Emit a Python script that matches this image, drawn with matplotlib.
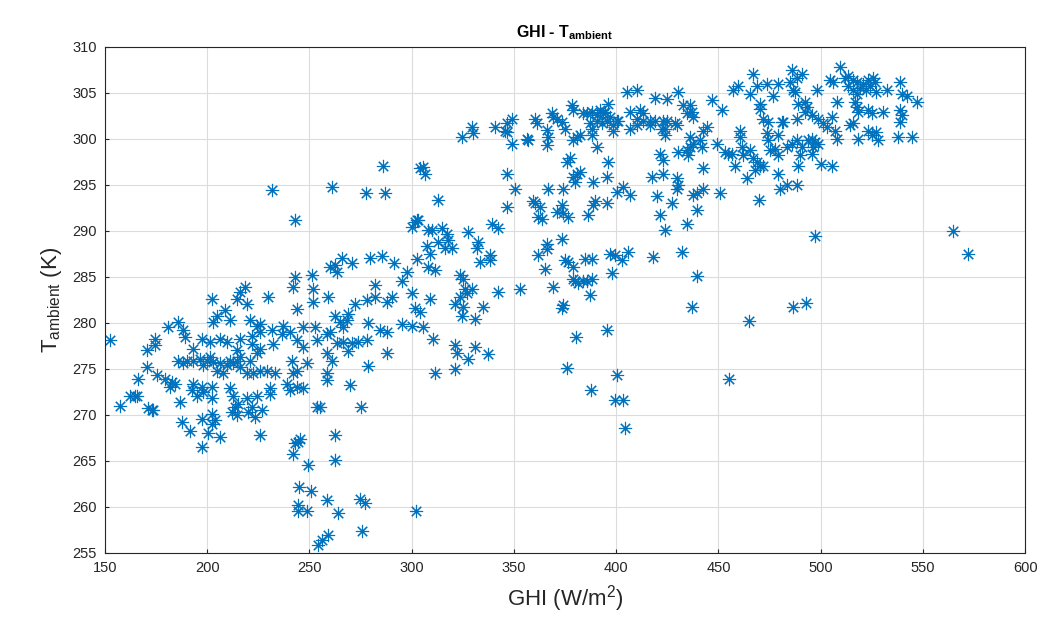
import numpy as np
import matplotlib
matplotlib.use("Agg")
import matplotlib.pyplot as plt

plt.rcParams['font.family'] = ['Liberation Sans', 'DejaVu Sans']
plt.rcParams['mathtext.fontset'] = 'custom'
plt.rcParams['mathtext.rm'] = 'Liberation Sans'
plt.rcParams['mathtext.it'] = 'Liberation Sans:italic'
plt.rcParams['mathtext.bf'] = 'Liberation Sans:bold'

# left cluster, low GHI
ghi_a = [242.9, 251.1, 242.1, 251.9, 218.5, 216.0, 214.4, 202.2, 219.3, 229.9,
         243.7, 251.9, 208.7, 204.6, 203.0, 211.1, 181.0, 185.9, 188.3, 189.1,
         174.4, 174.4, 197.3, 193.2, 220.9, 224.2, 225.8, 221.7, 225.8, 221.7,
         225.8, 231.5, 237.2, 240.5, 236.4, 232.3, 243.7, 247.0, 247.0, 252.7,
         253.5, 214.4, 209.5, 206.2, 201.3, 216.0,
         185.9, 189.9, 193.2, 196.4, 199.7, 203.0, 206.2, 209.5, 212.7, 216.0,
         219.3, 222.5, 225.8, 229.1, 233.1, 188.3, 198.1, 204.6, 207.9, 211.1,
         216.0, 220.9, 224.2, 214.4, 201.3, 175.3, 179.3, 182.6, 181.8, 184.2,
         173.6, 193.2, 192.4, 194.8, 197.3, 198.1, 202.2, 202.2, 186.7, 187.5,
         191.6, 197.3, 202.2, 203.8, 202.2, 200.5, 206.2, 211.1, 212.7, 213.6,
         211.9, 214.4, 215.2, 219.3, 221.7, 223.3, 224.2, 220.1, 226.6, 230.7,
         230.7, 238.8, 240.5, 243.7, 247.0, 242.1, 243.7, 241.3, 248.6, 253.5,
         225.8, 245.3]
t_a = [285.0, 285.2, 283.9, 283.7, 283.9, 283.4, 282.6, 282.6, 282.1, 282.8,
       281.5, 282.3, 281.4, 280.8, 280.1, 280.3, 279.6, 280.1, 279.2, 278.5,
       278.3, 277.6, 278.3, 277.2, 280.3, 279.7, 279.9, 278.6, 279.0, 277.7,
       277.2, 279.2, 279.7, 279.0, 278.8, 277.7, 278.1, 277.4, 279.6, 279.6,
       278.1, 277.0, 277.9, 278.3, 277.9, 278.3,
       275.9, 275.9, 275.9, 276.1, 275.9, 275.7, 275.6, 275.4, 275.6, 275.2,
       274.5, 274.5, 274.8, 274.8, 274.5, 275.6, 275.4, 274.8, 274.5, 275.9,
       276.3, 275.9, 276.7, 275.9, 276.3, 274.3, 273.9, 273.6, 273.0, 273.4,
       270.5, 273.4, 272.7, 272.1, 273.0, 272.5, 273.0, 271.8, 271.4, 269.2,
       268.3, 269.6, 270.1, 269.4, 269.0, 268.0, 267.6, 272.9, 272.0, 270.9,
       270.3, 270.0, 271.2, 271.8, 270.9, 269.8, 272.0, 270.3, 270.5, 272.9,
       272.3, 273.4, 272.7, 273.0, 272.9, 274.5, 274.8, 275.9, 275.6, 270.9,
       267.8, 267.4]

# far left, bottom outliers and 255-300 W/m2
ghi_b = [152.4, 157.3, 162.2, 164.7, 165.5, 166.3, 170.4, 170.4, 171.2, 172.8,
         197.3, 242.9, 244.4, 242.1, 262.5, 249.4, 262.5, 244.9, 250.7, 258.4,
         244.5, 244.5, 248.6, 264.1, 274.7, 277.1, 259.2, 255.9, 254.3, 275.5,
         302.1, 259.2, 272.2, 278.0, 282.0, 287.7, 290.2, 300.0, 301.6, 262.5,
         264.9, 268.2, 269.0, 266.5, 258.4, 260.0, 278.8, 284.5, 287.7, 295.1,
         300.0, 263.3, 266.5, 270.6, 273.9, 278.0, 269.0, 287.7, 258.4, 260.8,
         278.8, 258.4, 258.4, 269.8, 255.1, 275.0]
t_b = [278.1, 271.0, 272.0, 272.0, 272.0, 273.9, 275.2, 277.0, 270.7, 270.5,
       266.5, 266.9, 267.1, 265.8, 267.8, 264.5, 265.1, 262.2, 261.7, 260.7,
       260.2, 259.5, 259.5, 259.3, 260.8, 260.4, 256.9, 256.4, 255.8, 257.4,
       259.6, 282.8, 282.1, 282.5, 282.8, 282.3, 282.8, 283.2, 281.6, 280.7,
       280.1, 280.3, 281.0, 279.6, 278.8, 279.0, 280.0, 279.2, 279.0, 279.9,
       279.7, 277.8, 277.9, 277.8, 277.9, 278.1, 276.9, 276.7, 276.7, 275.9,
       275.3, 274.5, 273.8, 273.3, 270.9, 270.9]

# middle band and scattered low points
ghi_c = [260.0, 262.5, 263.3, 265.7, 270.6, 279.6, 285.3, 291.5, 302.4, 307.3,
         308.9, 308.1, 311.4, 297.5, 295.1, 282.0, 308.9, 304.0, 310.5, 305.7,
         311.4, 321.1, 322.0, 321.1, 323.6, 325.2, 326.0, 323.6, 325.2, 324.4,
         321.1, 327.7, 326.8, 231.5, 261.2, 242.9, 277.5, 286.9, 286.1, 300.0,
         302.4, 304.0, 330.9, 335.0, 330.9, 337.4, 374.1, 373.3, 380.3, 395.6,
         375.7, 400.5, 387.5, 399.4, 403.5, 404.3, 436.9, 486.6, 492.8, 465.1,
         455.3]
t_c = [286.1, 286.3, 285.5, 287.0, 286.5, 287.0, 287.3, 286.5, 286.9, 288.4,
       287.5, 286.1, 285.7, 285.5, 284.5, 284.1, 282.6, 281.2, 278.3, 279.6,
       274.6, 277.6, 276.7, 275.0, 285.2, 284.8, 283.7, 282.8, 281.7, 280.8,
       282.1, 276.1, 283.2, 294.4, 294.8, 291.2, 294.1, 294.1, 297.0, 290.4,
       291.2, 296.8, 280.4, 281.7, 277.4, 276.6, 281.9, 281.6, 278.5, 279.2,
       275.1, 274.3, 272.7, 271.6, 271.6, 268.6, 281.7, 281.7, 282.2, 280.2,
       273.9]

# 300-450 W/m2
ghi_d = [405.1, 410.0, 418.9, 424.6, 430.4, 446.7, 451.5, 378.2, 379.0, 383.9,
         388.0, 390.4, 393.7, 396.1, 396.9, 400.2, 395.3, 398.6, 392.9, 390.4,
         387.2, 388.0, 388.0, 368.4, 370.9, 373.3, 374.9, 369.2, 360.3, 361.1,
         366.0, 366.8, 348.9, 346.4, 345.6, 346.4, 340.7, 329.3, 330.1, 324.4,
         356.2, 357.0, 366.0, 380.6, 382.3, 348.9, 390.4, 406.7, 411.6, 413.2,
         410.0, 413.2, 416.5, 418.9, 416.5, 406.7, 410.0, 423.0, 424.6, 428.7,
         429.5, 423.8, 423.8, 422.2, 432.8, 436.1, 436.9, 437.7, 434.4, 436.1,
         442.6, 444.2, 441.0, 437.7, 434.4, 435.2, 436.1, 441.8, 449.1, 430.4,
         421.4, 423.0, 442.6, 423.0, 417.3, 429.5, 430.4, 429.5, 442.6, 439.3,
         437.7, 450.7, 419.8, 427.1, 439.3, 421.4, 434.4, 423.8, 305.7, 306.5,
         313.0, 301.6, 303.2, 308.1, 309.7, 314.6, 317.1, 317.9, 319.5, 313.0,
         316.3, 327.7, 332.6, 331.7, 333.4, 338.3, 338.3, 339.1, 342.3, 329.3,
         346.4, 350.5, 346.4, 375.7, 377.4, 379.0, 380.6, 382.3, 379.8, 366.8,
         374.1, 388.8, 395.3, 396.1, 400.2, 403.5, 406.7, 389.6, 395.3, 388.8,
         359.5, 360.3, 362.7, 361.9, 363.5, 373.3, 370.9, 374.1, 376.6, 386.3,
         373.3, 366.0, 366.0, 361.9, 374.9, 376.6, 379.0, 379.0, 379.8, 384.7,
         388.0, 365.2, 369.2, 383.9, 388.0, 387.2, 396.9, 399.4, 402.7, 405.9,
         397.8, 418.1, 432.0, 439.6, 352.9, 342.3, 392.0, 394.5, 401.0, 398.6,
         385.5, 379.0, 381.5, 385.5]
t_d = [305.1, 305.3, 304.4, 304.3, 305.1, 304.2, 303.1, 303.7, 303.1, 302.8,
       302.9, 302.6, 302.8, 303.8, 302.4, 302.0, 302.0, 301.5, 301.7, 302.0,
       301.7, 301.1, 300.4, 302.8, 302.2, 301.8, 301.1, 302.4, 302.2, 301.7,
       301.0, 300.2, 302.2, 301.7, 300.9, 300.8, 301.3, 301.3, 300.6, 300.2,
       300.0, 299.9, 299.3, 300.2, 300.4, 299.5, 299.1, 302.9, 303.1, 302.8,
       302.2, 301.9, 302.0, 302.0, 301.5, 301.1, 301.5, 301.9, 302.0, 301.7,
       301.5, 301.1, 300.4, 301.1, 303.7, 303.7, 302.9, 302.4, 302.8, 300.2,
       300.9, 301.3, 299.9, 299.5, 298.8, 298.2, 299.1, 299.1, 299.5, 298.6,
       298.4, 297.7, 296.8, 296.2, 295.9, 295.7, 295.0, 294.6, 294.6, 294.1,
       293.9, 294.1, 293.8, 293.0, 292.3, 291.7, 290.8, 290.1, 296.9, 296.2,
       293.4, 291.0, 291.2, 290.1, 290.1, 290.3, 289.7, 289.0, 288.1, 288.8,
       288.1, 289.9, 288.8, 288.1, 286.6, 287.4, 286.8, 290.8, 290.3, 283.7,
       296.2, 294.6, 292.6, 297.5, 297.9, 295.9, 296.2, 296.4, 295.3, 294.6,
       294.6, 295.3, 295.9, 297.5, 294.2, 294.8, 293.9, 293.2, 293.0, 292.8,
       293.2, 293.0, 292.6, 291.5, 291.3, 292.8, 292.1, 291.9, 291.5, 291.7,
       289.1, 288.6, 288.0, 287.4, 286.8, 286.6, 286.1, 284.8, 284.5, 286.9,
       286.9, 285.9, 283.9, 284.6, 284.8, 283.0, 287.5, 287.4, 286.8, 287.7,
       285.4, 287.2, 287.7, 285.1, 283.7, 283.4, 303.1, 302.9, 302.0, 300.9,
       302.8, 299.9, 284.3, 284.5]

# high GHI cluster
ghi_e = [467.0, 485.8, 490.7, 488.2, 484.9, 457.2, 459.7, 465.4, 468.7, 473.6,
         476.8, 479.3, 486.6, 487.4, 498.0, 504.5, 506.2, 509.4, 511.8, 513.5,
         515.9, 517.6, 520.8, 523.3, 525.7, 526.5, 524.1, 527.3, 532.2, 538.7,
         513.5, 515.9, 517.6, 519.2, 522.4, 539.6, 542.0, 546.9, 470.3, 470.3,
         471.9, 474.4, 481.7, 489.0, 492.3, 493.1, 492.3, 488.2, 495.6, 498.8,
         501.3, 502.9, 505.3, 507.0, 507.8, 507.8, 516.7, 517.6, 518.4, 523.3,
         524.9, 530.6, 538.7, 539.6, 538.7, 514.3, 515.9, 523.3, 527.3, 524.9,
         528.1, 518.4, 537.9, 544.5, 460.5, 460.5, 461.3, 462.1, 453.2, 454.8,
         456.4, 465.4, 467.0, 468.7, 470.3, 471.9, 467.8, 463.8, 458.1, 473.6,
         474.4, 479.3, 480.9, 483.3, 485.8, 488.2, 490.7, 489.8, 489.0, 479.3,
         475.2, 477.6, 493.9, 495.6, 497.2, 498.8, 496.4, 495.6, 500.4, 505.3,
         479.3, 480.1, 483.3, 488.2, 470.0, 497.2, 564.8, 572.2]
t_e = [307.1, 307.5, 307.1, 306.6, 306.2, 305.3, 305.7, 304.9, 305.7, 306.0,
       304.7, 306.0, 305.3, 305.1, 305.3, 306.4, 306.2, 307.8, 306.6, 306.8,
       306.4, 306.2, 306.0, 306.4, 306.6, 306.2, 305.8, 305.1, 305.3, 306.2,
       305.7, 305.3, 304.9, 305.5, 305.3, 304.9, 304.7, 304.0, 303.8, 303.3,
       302.2, 301.8, 301.8, 303.8, 304.0, 303.5, 302.9, 302.2, 302.6, 302.2,
       301.7, 301.3, 302.4, 300.9, 300.0, 304.0, 304.0, 303.5, 302.9, 303.1,
       302.8, 302.9, 303.1, 302.6, 301.8, 301.5, 301.7, 300.9, 300.8, 300.4,
       299.9, 300.0, 300.2, 300.2, 300.9, 300.2, 299.1, 298.2, 298.6, 298.4,
       298.4, 298.8, 297.9, 297.5, 297.1, 297.0, 296.6, 295.7, 297.0, 300.6,
       299.9, 300.4, 301.8, 299.1, 299.5, 299.9, 299.1, 298.2, 297.1, 298.2,
       298.8, 298.9, 299.9, 300.0, 299.7, 299.5, 299.1, 298.4, 297.3, 297.0,
       296.2, 294.6, 295.0, 295.0, 293.4, 289.4, 290.0, 287.5]

ghi = np.concatenate([ghi_a, ghi_b, ghi_c, ghi_d, ghi_e])
t_amb = np.concatenate([t_a, t_b, t_c, t_d, t_e])

xticks = np.arange(150, 601, 50)
yticks = np.arange(255, 311, 5)

fig = plt.figure(figsize=(10.45, 6.34), dpi=100)
ax = fig.add_axes([0.1005, 0.128, 0.8805, 0.798])

ax.plot(ghi, t_amb, linestyle='none', marker=(8, 2, 0), ms=9.5, mew=0.8,
        color='#0072BD')

ax.set_xlim(150, 600)
ax.set_ylim(255, 310)
ax.set_xticks(xticks)
ax.set_yticks(yticks)
ax.grid(True, color='#dcdcdc', lw=0.8)
ax.set_axisbelow(True)
for s in ax.spines.values():
    s.set_color('#262626')
    s.set_linewidth(0.8)
ax.tick_params(direction='in', length=3, width=0.8, colors='#262626',
               labelsize=10.5, pad=6)

ax.set_title(r'GHI - T$_{\mathbf{ambient}}$', fontsize=11.5, fontweight='bold',
             color='#000000', pad=7)
ax.set_xlabel(r'GHI (W/m$^2$)', fontsize=16, color='#262626', labelpad=6)
ax.set_ylabel(r'T$_{\rm ambient}$ (K)', fontsize=16, color='#262626', labelpad=6)

fig.savefig('out.png', dpi=100)
